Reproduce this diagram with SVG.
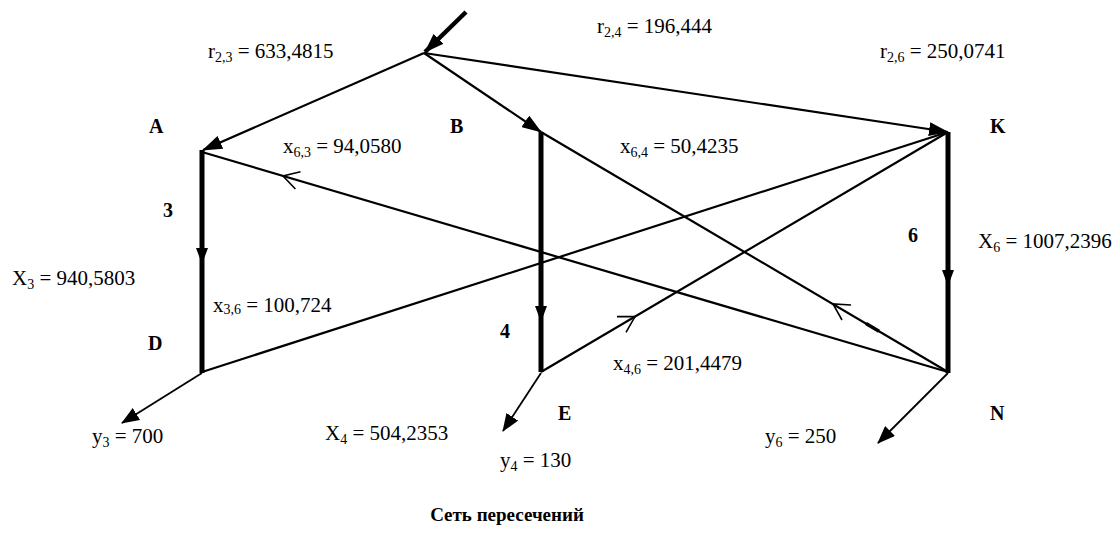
<svg xmlns="http://www.w3.org/2000/svg" width="1115" height="533" viewBox="0 0 1115 533">
<style>
text{font-family:"Liberation Serif","Times New Roman",serif;fill:#000}
.v{font-size:21px}
.s{font-size:14px}
.b{font-size:20px;font-weight:bold}
.cap{font-size:19px;font-weight:bold}
.thick{stroke:#000;stroke-width:5;fill:none}
.med{stroke:#000;stroke-width:2.2;fill:none}
.thin{stroke:#000;stroke-width:1.8;fill:none}
.open{stroke:#000;stroke-width:1.6;fill:none}
</style>
<defs>
<marker id="ah" viewBox="0 0 20 14" refX="19" refY="7" markerWidth="20" markerHeight="14" orient="auto" markerUnits="userSpaceOnUse"><path d="M0,0 L20,7 L0,14 z" fill="#000"/></marker>
<marker id="ahs" viewBox="0 0 18 14" refX="17" refY="7" markerWidth="18" markerHeight="14" orient="auto" markerUnits="userSpaceOnUse"><path d="M0,0 L18,7 L0,14 z" fill="#000"/></marker>
</defs>
<rect width="1115" height="533" fill="#fff"/>
<g id="connectors">
<line class="thick" x1="466" y1="12" x2="425" y2="52" style="stroke-width:4.5" marker-end="url(#ah)"/>
<line class="med" x1="424" y1="53" x2="203" y2="150" marker-end="url(#ah)"/>
<line class="med" x1="424" y1="53" x2="541" y2="132" marker-end="url(#ah)"/>
<line class="med" x1="424" y1="53" x2="948" y2="132" marker-end="url(#ah)"/>
<line class="thick" x1="202" y1="150" x2="202" y2="373"/>
<line class="thick" x1="541" y1="132" x2="541" y2="372"/>
<line class="thick" x1="948" y1="132" x2="948" y2="373"/>
<path d="M196,248 L208,248 L202,264 z" fill="#000"/>
<path d="M535,306 L547,306 L541,322 z" fill="#000"/>
<path d="M942,270 L954,270 L948,286 z" fill="#000"/>
<line class="med" x1="202" y1="152" x2="948" y2="372"/>
<line class="med" x1="541" y1="132" x2="948" y2="372"/>
<line class="med" x1="202" y1="372" x2="948" y2="132"/>
<line class="med" x1="541" y1="372" x2="948" y2="132"/>
<polyline class="open" points="300.5,171.8 283,176 295.4,189"/>
<polyline class="open" points="851,305 833,304 842,320"/>
<polyline class="open" points="617,316.6 635,316.6 626,332.3"/>
<line x1="866" y1="323.6" x2="879" y2="331.3" stroke="#000" stroke-width="3.5"/>
<line class="thin" x1="202" y1="373" x2="122" y2="423" marker-end="url(#ahs)"/>
<line class="thin" x1="541" y1="373" x2="503" y2="431" marker-end="url(#ahs)"/>
<line class="thin" x1="948" y1="373" x2="878" y2="443" marker-end="url(#ahs)"/>
</g>
<g id="node-A"><text class="b" x="149" y="133">A</text></g>
<g id="node-B"><text class="b" x="450" y="133">B</text></g>
<g id="node-K"><text class="b" x="990" y="133">K</text></g>
<g id="node-D"><text class="b" x="148" y="350">D</text></g>
<g id="node-E"><text class="b" x="558" y="420">E</text></g>
<g id="node-N"><text class="b" x="990" y="420">N</text></g>
<g id="edge-labels">
<text class="b" x="163" y="217">3</text>
<text class="b" x="500" y="338">4</text>
<text class="b" x="908" y="242">6</text>
<text class="v" x="208" y="58">r<tspan class="s" dy="4">2,3</tspan><tspan dy="-4"> = 633,4815</tspan></text>
<text class="v" x="597" y="33">r<tspan class="s" dy="4">2,4</tspan><tspan dy="-4"> = 196,444</tspan></text>
<text class="v" x="880" y="58">r<tspan class="s" dy="4">2,6</tspan><tspan dy="-4"> = 250,0741</tspan></text>
<text class="v" x="283" y="153">x<tspan class="s" dy="4">6,3</tspan><tspan dy="-4"> = 94,0580</tspan></text>
<text class="v" x="620" y="153">x<tspan class="s" dy="4">6,4</tspan><tspan dy="-4"> = 50,4235</tspan></text>
<text class="v" x="12" y="285">X<tspan class="s" dy="4">3</tspan><tspan dy="-4"> = 940,5803</tspan></text>
<text class="v" x="213" y="312">x<tspan class="s" dy="2">3,6</tspan><tspan dy="-2"> = 100,724</tspan></text>
<text class="v" x="978" y="248">X<tspan class="s" dy="4">6</tspan><tspan dy="-4"> = 1007,2396</tspan></text>
<text class="v" x="613" y="370">x<tspan class="s" dy="4">4,6</tspan><tspan dy="-4"> = 201,4479</tspan></text>
<text class="v" x="92" y="443">y<tspan class="s" dy="4">3</tspan><tspan dy="-4"> = 700</tspan></text>
<text class="v" x="325" y="440">X<tspan class="s" dy="4">4</tspan><tspan dy="-4"> = 504,2353</tspan></text>
<text class="v" x="500" y="467">y<tspan class="s" dy="4">4</tspan><tspan dy="-4"> = 130</tspan></text>
<text class="v" x="765" y="443">y<tspan class="s" dy="4">6</tspan><tspan dy="-4"> = 250</tspan></text>
</g>
<text class="cap" x="507" y="521" text-anchor="middle">Сеть пересечений</text>
</svg>
